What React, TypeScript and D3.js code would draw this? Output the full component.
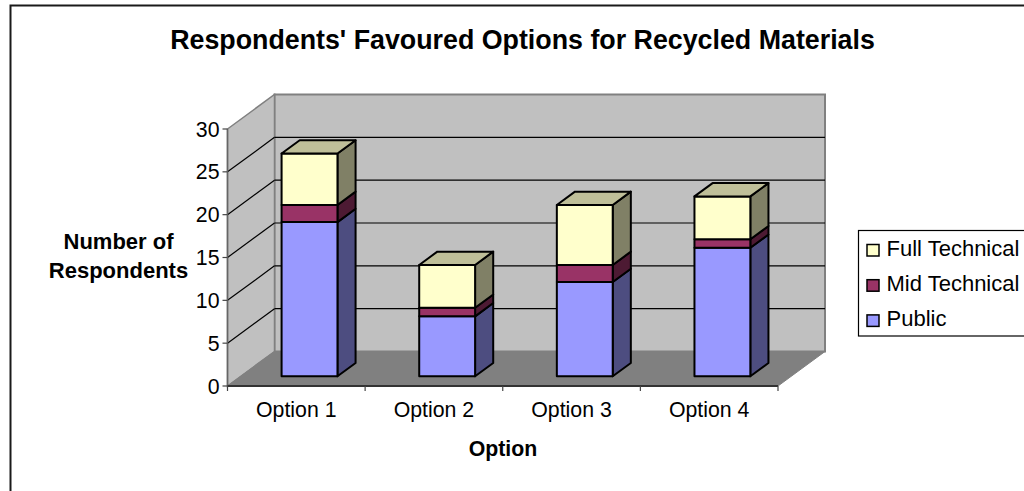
import React from "react";
import * as d3 from "d3";

const categories = ["Option 1", "Option 2", "Option 3", "Option 4"];
const seriesNames = ["Public", "Mid Technical", "Full Technical"];
const publicValues = [18, 7, 11, 15];
const midValues = [2, 1, 2, 1];
const fullValues = [6, 5, 7, 5];
const yTicks = [0, 5, 10, 15, 20, 25, 30];
const frontColors = ["#9999ff", "#993366", "#ffffcc"];
const topColors = ["#7a7acc", "#7a2952", "#bfbf99"];
const sideColors = ["#4d4d80", "#4d1a33", "#808066"];

const FONT = "'Liberation Sans', Arial, sans-serif";
const LABEL = 21.3;
const TITLE2 = 22;
const x0 = 227.5, x1 = 778, y0 = 386, y30 = 129;
const depthX = 47, depthY = 34.5;
const barZ0 = 9.7 / 34.5, barZ1 = 23 / 34.5;

const y = d3.scaleLinear().domain([0, 30]).range([y0, y30]);
const x = d3.scaleBand<string>().domain(categories).range([x0, x1]).paddingInner(0.594).paddingOuter(0.297);
const pt = (px: number, py: number, z: number): [number, number] => [px + depthX * z, py - depthY * z];
const poly = (pts: [number, number][]) => d3.line()(pts)! + "Z";

export default function App() {
  const stacked = d3.stack<number>()
    .keys(["0", "1", "2"])
    .value((_d, key) => [publicValues, midValues, fullValues][+key][_d])(categories.map((_, i) => i));

  const backY = (v: number) => y(v) - depthY;
  const legendItems = [2, 1, 0];

  return (
    <svg width={1024} height={491} viewBox="0 0 1024 491"
      style={{ position: "absolute", left: 0, top: 0, background: "#fff", fontFamily: FONT }}>
      <rect x={10.5} y={5.5} width={1100} height={600} fill="#fff" stroke="#1a1a1a" strokeWidth={2} />
      <text x={522.5} y={48.5} textAnchor="middle" fontSize={26.8} fontWeight="bold" fill="#000">
        Respondents' Favoured Options for Recycled Materials
      </text>

      {/* back wall */}
      <path d={poly([pt(x0, y30, 1), pt(x1, y30, 1), pt(x1, y0, 1), pt(x0, y0, 1)])} fill="#c0c0c0" stroke="#808080" strokeWidth={2} />
      {/* side wall */}
      <path d={poly([pt(x0, y30, 0), pt(x0, y30, 1), pt(x0, y0, 1), pt(x0, y0, 0)])} fill="#c0c0c0" stroke="#808080" strokeWidth={1.5} />
      {/* floor */}
      <path d={poly([pt(x0, y0, 0), pt(x0, y0, 1), pt(x1, y0, 1), pt(x1, y0, 0)])} fill="#808080" stroke="#808080" />

      {/* gridlines */}
      {yTicks.filter(t => t > 0 && t < 30).map(t => (
        <g key={t} stroke="#000" strokeWidth={1.2} fill="none">
          <line x1={x0 + depthX} x2={x1 + depthX} y1={backY(t)} y2={backY(t)} />
          <line x1={x0} x2={x0 + depthX} y1={y(t)} y2={backY(t)} />
        </g>
      ))}

      {/* axes */}
      <line x1={x0} x2={x0} y1={y30} y2={y0} stroke="#666" strokeWidth={1.5} />
      <line x1={x0} x2={x1} y1={y0} y2={y0} stroke="#333" strokeWidth={1.8} />
      {yTicks.map(t => (
        <g key={t}>
          <line x1={x0 - 5} x2={x0} y1={y(t)} y2={y(t)} stroke="#444" strokeWidth={1.2} />
          <text x={x0 - 8} y={y(t) + 7.5} textAnchor="end" fontSize={LABEL} fill="#000">{t}</text>
        </g>
      ))}
      {d3.range(5).map(i => {
        const tx = x0 + (i * (x1 - x0)) / 4;
        return <line key={i} x1={tx} x2={tx} y1={y0} y2={y0 + 5} stroke="#444" strokeWidth={1.2} />;
      })}
      {categories.map((c, i) => (
        <text key={c} x={x0 + ((i + 0.5) * (x1 - x0)) / 4} y={417} textAnchor="middle" fontSize={LABEL} fill="#000">{c}</text>
      ))}

      {/* bars */}
      {categories.map((c, i) => {
        const left = x(c)!;
        const right = left + x.bandwidth();
        return (
          <g key={c} stroke="#000" strokeWidth={2} strokeLinejoin="round">
            {stacked.map((s, k) => {
              const [b, t] = s[i];
              const A = pt(left, y(t), barZ0), B = pt(right, y(t), barZ0);
              const C = pt(right, y(b), barZ0), D = pt(left, y(b), barZ0);
              const E = pt(right, y(t), barZ1), F = pt(right, y(b), barZ1), G = pt(left, y(t), barZ1);
              return (
                <g key={k}>
                  <path d={poly([B, E, F, C])} fill={sideColors[k]} />
                  <path d={poly([A, B, C, D])} fill={frontColors[k]} />
                  {k === 2 && <path d={poly([A, G, E, B])} fill={topColors[k]} />}
                </g>
              );
            })}
          </g>
        );
      })}

      {/* axis titles */}
      <text x={118.5} y={249} textAnchor="middle" fontSize={TITLE2} fontWeight="bold" fill="#000">Number of</text>
      <text x={118.5} y={278} textAnchor="middle" fontSize={TITLE2} fontWeight="bold" fill="#000">Respondents</text>
      <text x={503} y={456} textAnchor="middle" fontSize={LABEL} fontWeight="bold" fill="#000">Option</text>

      {/* legend */}
      <rect x={858.5} y={230.5} width={200} height={105.5} fill="#fff" stroke="#000" strokeWidth={1.2} />
      {legendItems.map((k, i) => (
        <g key={k}>
          <rect x={867} y={244.5 + i * 35.2} width={12} height={11.5} fill={frontColors[k]} stroke="#000" strokeWidth={1.5} />
          <text x={886.5} y={255.8 + i * 35.2} fontSize={TITLE2} fill="#000">{seriesNames[k]}</text>
        </g>
      ))}
    </svg>
  );
}
